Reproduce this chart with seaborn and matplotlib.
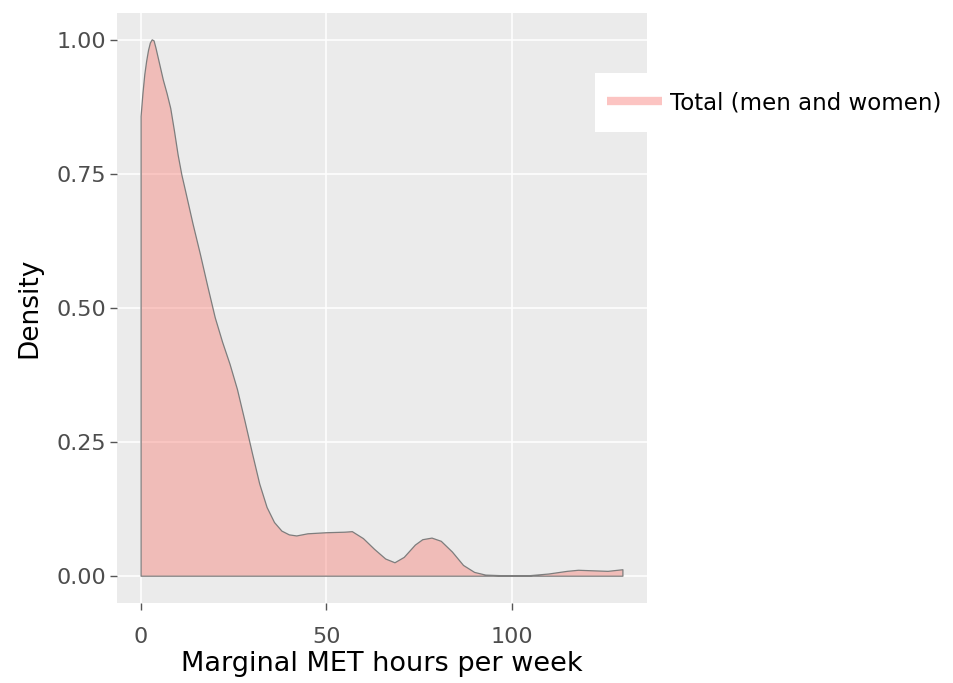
import numpy as np
import pandas as pd
import matplotlib
matplotlib.use("Agg")
import matplotlib.pyplot as plt
from matplotlib.lines import Line2D
from matplotlib.patches import Rectangle
import seaborn as sns

# Density curve
met_hours = [0, 0.5, 1, 1.5, 2, 2.5, 3, 3.5, 4, 5, 6, 7, 8, 9, 10, 11, 12, 14, 16, 18,
             20, 22, 24, 26, 28, 30, 32, 34, 36, 38, 40, 42, 45, 50, 55, 57, 60, 63,
             66, 68.5, 71, 74, 76, 78.5, 81, 84, 87, 90, 93, 97, 100, 105, 110, 115,
             118, 122, 126, 130]
density = [0.857, 0.90, 0.935, 0.96, 0.98, 0.994, 1.0, 0.998, 0.985, 0.955, 0.925,
           0.90, 0.872, 0.83, 0.785, 0.748, 0.718, 0.657, 0.600, 0.54,
           0.482, 0.436, 0.395, 0.348, 0.29, 0.23, 0.172, 0.128, 0.100, 0.084, 0.077, 0.075,
           0.079, 0.081, 0.082, 0.083, 0.07, 0.05, 0.032, 0.025, 0.035, 0.058, 0.068,
           0.071, 0.065, 0.045, 0.02, 0.007, 0.002, 0.001, 0.001, 0.001, 0.004,
           0.009, 0.011, 0.010, 0.009, 0.012]
series_label = "Total (men and women)"
x_ticks = [0, 50, 100]
y_ticks = [0.00, 0.25, 0.50, 0.75, 1.00]
y_tick_labels = ["0.00", "0.25", "0.50", "0.75", "1.00"]

df = pd.DataFrame({"x": met_hours, "y": density})

sns.set_theme(style="darkgrid", rc={
    "axes.facecolor": "#EBEBEB",
    "grid.color": "white",
    "grid.linewidth": 1.1,
})
plt.rcParams["font.family"] = ["DejaVu Sans"]

W, H = 954, 683
fig = plt.figure(figsize=(9.54, 6.83), dpi=100)
ax = fig.add_axes([117 / W, 1 - 603 / H, (647 - 117) / W, (603 - 13) / H])

base = "#F8766D"
ax.fill_between(df["x"], df["y"], 0, facecolor=base, alpha=0.4, edgecolor="none", zorder=2)
ax.fill_between(df["x"], df["y"], 0, facecolor="none", edgecolor="#7d7d7d",
                linewidth=0.9, zorder=3)

xmax = max(met_hours)
ax.set_xlim(-0.05 * xmax, xmax * 1.05)
ax.set_ylim(-0.05, 1.05)
ax.set_xticks(x_ticks)
ax.set_yticks(y_ticks)
ax.set_yticklabels(y_tick_labels)
ax.tick_params(axis="both", which="major", length=5, width=1, color="#555555",
               labelcolor="#4D4D4D", labelsize=16, pad=3, direction="out",
               bottom=True, left=True)
ax.tick_params(axis="x", pad=12)
for s in ax.spines.values():
    s.set_visible(False)
ax.set_xlabel("Marginal MET hours per week", fontsize=19.5, color="black", labelpad=3)
ax.set_ylabel("Density", fontsize=19, color="black", labelpad=10)

# white legend background box
fig.patches.append(Rectangle((595 / W, 1 - 132 / H), (W - 595) / W, 59 / H,
                             transform=fig.transFigure, facecolor="white",
                             edgecolor="none", zorder=5))

handle = Line2D([0], [0], color=(252 / 255, 196 / 255, 194 / 255), linewidth=6,
                solid_capstyle="butt")
leg = fig.legend([handle], [series_label], loc="center left",
                 bbox_to_anchor=(607 / W, 1 - 103 / H), frameon=False,
                 fontsize=16.5, handlelength=2.4, handletextpad=0.35,
                 borderpad=0, borderaxespad=0, labelcolor="black")
leg.set_zorder(6)

fig.savefig("out.png", dpi=100, facecolor="white")
